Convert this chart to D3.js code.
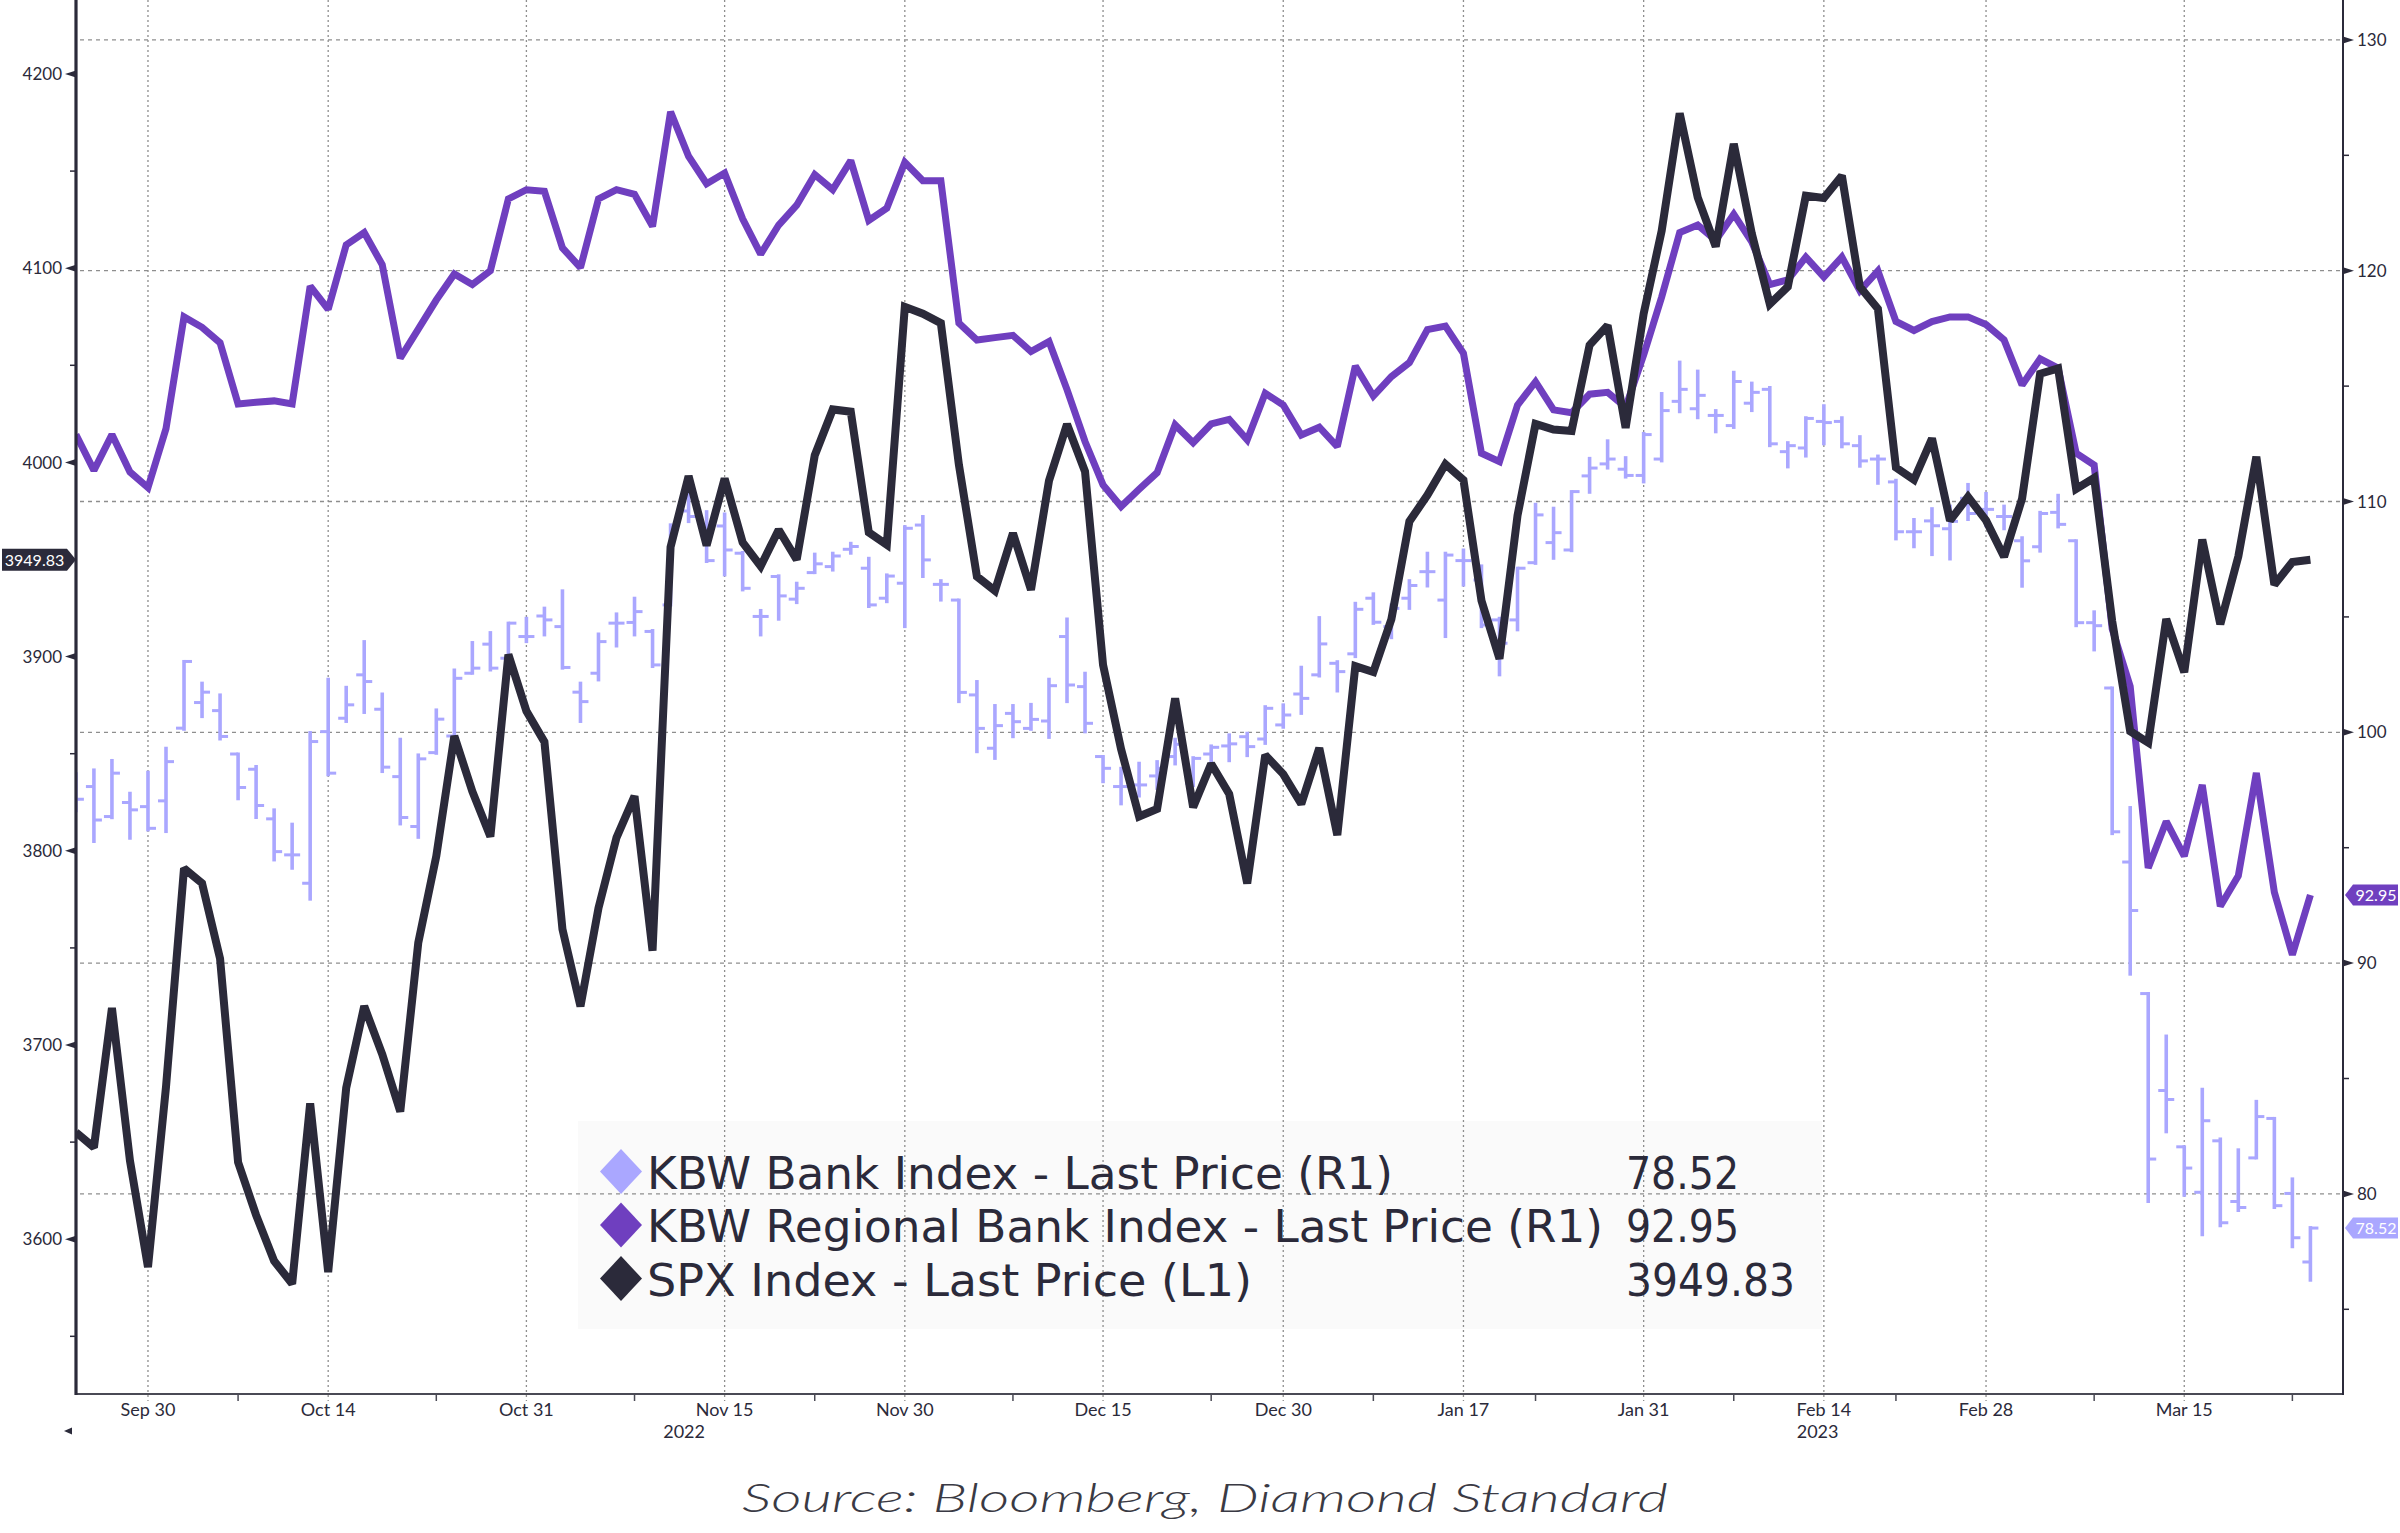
<!DOCTYPE html>
<html>
<head>
<meta charset="utf-8">
<script src="https://cdn.jsdelivr.net/npm/d3@7"></script>
<style>
  html, body { margin: 0; padding: 0; background: #ffffff; }
  svg { display: block; }
</style>
</head>
<body>
<div id="viz_div"></div>
<script>
// TRADING CALENDAR (x categories)
// ---------------------------------------------------------------------------------------------
const firstDay = new Date(2022, 8, 26);
const lastDay = new Date(2023, 2, 25);
const marketHolidays = ["2022-11-24", "2022-12-26", "2023-01-02", "2023-01-16", "2023-02-20"];
const fmtDay = d3.timeFormat("%Y-%m-%d");
const dates = d3.timeDay.range(firstDay, lastDay)
    .filter(d => d.getDay() !== 0 && d.getDay() !== 6 && !marketHolidays.includes(fmtDay(d)))
    .map(fmtDay);

// SERIES
// ---------------------------------------------------------------------------------------------
const spxLast = [
    3655.04, 3647.29, 3719.04, 3640.47, 3585.62, 3678.43, 3790.93, 3783.28, 3744.52, 3639.66,
    3612.39, 3588.84, 3577.03, 3669.91, 3583.07, 3677.95, 3719.98, 3695.16, 3665.78, 3752.75,
    3797.34, 3859.11, 3830.60, 3807.30, 3901.06, 3871.98, 3856.10, 3759.69, 3719.89, 3770.55,
    3806.80, 3828.11, 3748.57, 3956.37, 3992.93, 3957.25, 3991.73, 3958.79, 3946.56, 3965.34,
    3949.94, 4003.58, 4027.26, 4026.12, 3963.94, 3957.63, 4080.11, 4076.57, 4071.70, 3998.84,
    3941.26, 3933.92, 3963.51, 3934.38, 3990.56, 4019.65, 3995.32, 3895.75, 3852.36, 3817.66,
    3821.62, 3878.44, 3822.39, 3844.82, 3829.25, 3783.22, 3849.28, 3839.50, 3824.14, 3852.97,
    3808.10, 3895.08, 3892.09, 3919.25, 3969.61, 3983.17, 3999.09, 3990.97, 3928.86, 3898.85,
    3972.61, 4019.81, 4016.95, 4016.22, 4060.43, 4070.56, 4017.77, 4076.60, 4119.21, 4179.76,
    4136.48, 4111.08, 4164.00, 4117.86, 4081.50, 4090.46, 4137.29, 4136.13, 4147.60, 4090.41,
    4079.09, 3997.34, 3991.05, 4012.32, 3970.04, 3982.24, 3970.15, 3951.39, 3981.35, 4045.64,
    4048.42, 3986.37, 3992.01, 3918.32, 3861.59, 3855.76, 3919.29, 3891.93, 3960.28, 3916.64,
    3951.57, 4002.87, 3936.97, 3948.72, 3949.83
];

const regionalLast = [
    112.90, 111.35, 112.90, 111.28, 110.60, 113.16, 118.00, 117.55, 116.88, 114.23,
    114.30, 114.36, 114.23, 119.33, 118.33, 121.12, 121.65, 120.26, 116.21, 117.47,
    118.73, 119.86, 119.40, 120.00, 123.11, 123.51, 123.44, 120.99, 120.13, 123.11,
    123.51, 123.31, 121.92, 126.89, 124.96, 123.77, 124.23, 122.25, 120.72, 121.98,
    122.84, 124.17, 123.51, 124.77, 122.18, 122.71, 124.70, 123.90, 123.90, 117.73,
    117.00, 117.10, 117.20, 116.50, 116.93, 114.85, 112.60, 110.72, 109.78, 110.53,
    111.25, 113.32, 112.55, 113.36, 113.56, 112.67, 114.69, 114.18, 112.88, 113.22,
    112.38, 115.87, 114.57, 115.41, 116.02, 117.45, 117.60, 116.42, 112.09, 111.73,
    114.18, 115.19, 113.97, 113.85, 114.65, 114.73, 114.08, 116.35, 118.86, 121.65,
    121.98, 121.32, 122.45, 121.25, 119.40, 119.60, 120.59, 119.73, 120.59, 119.13,
    119.99, 117.80, 117.41, 117.80, 118.00, 118.00, 117.67, 117.00, 115.05, 116.18,
    115.78, 112.10, 111.58, 104.49, 101.99, 94.12, 96.14, 94.64, 97.72, 92.46,
    93.78, 98.24, 93.07, 90.36, 92.95
];

const bankOpen = [
    97.60, 97.65, 96.35, 96.96, 96.78, 97.03, 100.18, 101.29, 100.94, 99.06,
    98.40, 96.25, 94.69, 93.46, 100.03, 100.61, 102.49, 101.00, 98.08, 95.92,
    99.12, 99.84, 102.56, 103.82, 103.21, 104.15, 105.04, 104.58, 101.74, 102.56,
    104.73, 104.76, 104.37, 105.52, 109.59, 108.89, 108.94, 107.76, 105.02, 106.75,
    105.77, 106.92, 107.18, 107.93, 107.11, 105.81, 106.46, 108.98, 106.41, 105.73,
    101.62, 99.31, 100.82, 100.17, 100.49, 104.15, 101.98, 98.95, 97.65, 97.72,
    98.11, 98.95, 97.79, 99.06, 99.41, 99.81, 99.71, 100.32, 101.66, 102.49,
    102.99, 103.40, 105.81, 104.58, 105.81, 106.96, 105.73, 107.44, 106.60, 104.87,
    104.87, 107.35, 108.22, 107.90, 111.11, 111.63, 111.40, 111.13, 111.84, 114.34,
    114.02, 113.73, 113.29, 114.26, 114.86, 112.16, 112.32, 113.47, 113.47, 112.42,
    111.84, 110.85, 108.69, 109.16, 108.82, 110.14, 109.66, 109.35, 108.30, 108.04,
    109.53, 108.30, 104.75, 101.92, 94.38, 88.68, 84.48, 82.04, 80.07, 82.30,
    79.67, 81.56, 83.27, 80.02, 77.05
];
const bankHigh = [
    98.20, 98.37, 98.78, 97.36, 98.27, 99.31, 103.07, 102.13, 101.62, 99.06,
    98.52, 96.64, 96.02, 99.99, 102.30, 101.95, 103.93, 101.66, 99.70, 99.02,
    100.97, 102.70, 103.89, 104.32, 104.73, 104.94, 105.38, 106.13, 102.13, 104.26,
    105.13, 105.81, 104.41, 108.99, 110.36, 109.56, 109.46, 107.79, 105.28, 106.78,
    106.46, 107.72, 107.76, 108.19, 107.54, 106.82, 108.91, 109.35, 106.57, 105.73,
    102.20, 101.16, 101.16, 101.21, 102.30, 104.91, 102.56, 98.95, 98.44, 98.66,
    98.73, 99.70, 98.90, 99.41, 99.89, 99.96, 101.11, 101.19, 102.82, 104.97,
    103.06, 105.59, 106.00, 105.52, 106.57, 107.76, 107.76, 107.90, 107.21, 104.94,
    107.11, 109.88, 109.71, 110.43, 111.87, 112.63, 111.90, 112.95, 114.68, 116.04,
    115.65, 113.94, 115.60, 115.13, 114.94, 112.55, 113.63, 114.15, 113.63, 112.81,
    111.97, 110.92, 109.22, 109.69, 109.80, 110.74, 110.35, 109.80, 108.43, 109.53,
    110.27, 108.30, 105.22, 101.92, 96.74, 88.68, 86.84, 82.04, 84.53, 82.38,
    81.91, 84.01, 83.27, 80.65, 78.54
];
const bankLow = [
    96.60, 95.27, 96.30, 95.41, 95.77, 95.70, 100.13, 100.68, 99.71, 97.12,
    96.31, 94.47, 94.11, 92.77, 98.16, 100.47, 100.86, 98.30, 96.03, 95.45,
    99.09, 99.74, 102.56, 102.70, 103.14, 103.93, 104.22, 102.78, 100.47, 102.27,
    103.74, 104.22, 102.85, 105.52, 109.13, 107.40, 106.82, 106.17, 104.22, 104.90,
    105.62, 106.92, 107.03, 107.76, 105.45, 105.66, 104.58, 106.75, 105.73, 101.33,
    99.16, 98.87, 99.81, 100.13, 99.78, 101.33, 100.02, 97.86, 96.90, 97.24,
    97.57, 98.63, 97.69, 98.51, 98.77, 98.99, 99.52, 100.22, 100.82, 102.44,
    101.79, 103.28, 104.72, 104.10, 105.37, 106.34, 104.15, 106.38, 104.58, 102.49,
    104.44, 107.32, 107.54, 107.87, 110.40, 111.45, 111.06, 110.85, 111.76, 113.89,
    113.63, 113.02, 113.21, 113.94, 112.42, 111.50, 111.97, 112.50, 112.37, 111.53,
    110.79, 108.38, 108.04, 107.70, 107.51, 109.22, 108.95, 108.82, 106.33, 107.85,
    108.90, 104.62, 103.57, 95.61, 89.52, 79.67, 82.69, 79.94, 78.23, 78.62,
    79.28, 81.56, 79.41, 77.71, 76.26
];
const bankClose = [
    97.10, 96.20, 98.23, 96.64, 95.84, 98.73, 103.07, 101.74, 99.82, 97.61,
    96.83, 94.83, 94.69, 99.60, 98.23, 101.19, 102.20, 98.49, 96.31, 98.85,
    100.57, 102.34, 102.78, 102.78, 104.73, 104.15, 104.87, 102.81, 101.33, 103.93,
    104.73, 105.23, 102.92, 108.84, 109.35, 107.44, 107.90, 106.24, 105.02, 105.91,
    106.24, 107.30, 107.64, 108.05, 105.52, 106.77, 108.84, 107.47, 106.41, 101.73,
    100.17, 100.29, 100.46, 100.56, 102.02, 102.05, 100.39, 98.44, 97.65, 97.72,
    98.44, 99.48, 98.87, 99.35, 99.50, 99.38, 101.04, 100.75, 101.47, 103.83,
    102.63, 105.33, 104.77, 105.37, 106.36, 106.96, 107.68, 107.44, 104.65, 103.86,
    107.11, 109.42, 108.65, 110.43, 111.45, 111.84, 111.13, 112.90, 113.94, 114.86,
    114.60, 113.73, 115.20, 114.73, 112.50, 112.42, 113.60, 113.42, 112.50, 111.76,
    111.84, 108.69, 108.69, 108.95, 109.14, 109.48, 109.66, 109.35, 107.43, 109.48,
    109.01, 104.75, 104.62, 95.69, 92.28, 81.51, 84.09, 81.12, 83.17, 78.75,
    79.41, 83.35, 79.49, 78.10, 78.52
];

// AXIS TICKS AND LEGEND TEXT
// ---------------------------------------------------------------------------------------------
const dateTicks = ["2022-09-30", "2022-10-14", "2022-10-31", "2022-11-15", "2022-11-30", "2022-12-15",
    "2022-12-30", "2023-01-17", "2023-01-31", "2023-02-14", "2023-02-28", "2023-03-15"];
const dateTickLabels = ["Sep 30", "Oct 14", "Oct 31", "Nov 15", "Nov 30", "Dec 15",
    "Dec 30", "Jan 17", "Jan 31", "Feb 14", "Feb 28", "Mar 15"];
const minorDateTicks = ["2022-10-07", "2022-10-24", "2022-11-08", "2022-11-22", "2022-12-08", "2022-12-23",
    "2023-01-09", "2023-01-23", "2023-02-07", "2023-02-21", "2023-03-08", "2023-03-23"];
const years = ["2022", "2023"];
const leftTicks = [3600, 3700, 3800, 3900, 4000, 4100, 4200];
const leftMinorTicks = [3550, 3650, 3750, 3850, 3950, 4050, 4150];
const rightTicks = [80, 90, 100, 110, 120, 130];
const rightMinorTicks = [75, 85, 95, 105, 115, 125];
const legendNames = ["KBW Bank Index - Last Price (R1)", "KBW Regional Bank Index - Last Price (R1)", "SPX Index - Last Price (L1)"];
const legendValues = ["78.52", "92.95", "3949.83"];
const sourceNote = "Source: Bloomberg, Diamond Standard";

// LAYOUT
// ---------------------------------------------------------------------------------------------
const W = 2400, H = 1533;
const plotLeft = 76, plotRight = 2343, plotTop = 0, plotBottom = 1394;
const inkDark = "#2b2a3a";
const colBank = "#aaa7ff", colRegional = "#6f3fbf", colSpx = "#2b2a3a";
const gridCol = "#8e8e8e";
const tickFont = "Lato, 'DejaVu Sans', sans-serif";
const legendFont = "'DejaVu Sans', Lato, sans-serif";

const x = d3.scaleLinear().domain([0, dates.length - 1]).range([75.9, 2310.4]);
const xd = d => x(dates.indexOf(d));
const yL = d3.scaleLinear().domain([3520.3, 4238.1]).range([plotBottom, plotTop]);
const yR = d3.scaleLinear().domain([71.33, 131.73]).range([plotBottom, plotTop]);

const svg = d3.select("#viz_div").append("svg")
    .attr("width", W).attr("height", H)
    .attr("viewBox", `0 0 ${W} ${H}`);

svg.append("rect").attr("width", W).attr("height", H).attr("fill", "#ffffff");

svg.append("defs").append("clipPath").attr("id", "plotclip")
    .append("rect")
    .attr("x", plotLeft).attr("y", plotTop)
    .attr("width", plotRight - plotLeft).attr("height", plotBottom - plotTop);

// LEGEND BACKGROUND (under the grid)
// ---------------------------------------------------------------------------------------------
svg.append("rect")
    .attr("x", 578).attr("y", 1121)
    .attr("width", 1822 - 578).attr("height", 1329 - 1121)
    .attr("fill", "#fafafa");

// GRIDLINES
// ---------------------------------------------------------------------------------------------
svg.append("g").selectAll("line")
    .data(rightTicks)
    .join("line")
    .attr("x1", plotLeft + 4).attr("x2", plotRight)
    .attr("y1", d => yR(d)).attr("y2", d => yR(d))
    .attr("stroke", gridCol).attr("stroke-width", 1.3)
    .attr("stroke-dasharray", "4,4");

svg.append("g").selectAll("line")
    .data(dateTicks)
    .join("line")
    .attr("x1", d => xd(d)).attr("x2", d => xd(d))
    .attr("y1", plotTop).attr("y2", plotBottom + 7)
    .attr("stroke", gridCol).attr("stroke-width", 1.3)
    .attr("stroke-dasharray", "2,3");

// PLOT CONTENT
// ---------------------------------------------------------------------------------------------
const plot = svg.append("g").attr("clip-path", "url(#plotclip)");
const idx = d3.range(dates.length);

// KBW bank index as open/high/low/close bars
const bars = plot.append("g").attr("stroke", colBank).attr("fill", "none");
bars.selectAll("line.hl")
    .data(idx).join("line").attr("class", "hl")
    .attr("x1", i => x(i)).attr("x2", i => x(i))
    .attr("y1", i => yR(bankHigh[i]) - 1.5).attr("y2", i => yR(bankLow[i]) + 1.5)
    .attr("stroke-width", 3.6);
bars.selectAll("line.op")
    .data(idx).join("line").attr("class", "op")
    .attr("x1", i => x(i) - 8).attr("x2", i => x(i))
    .attr("y1", i => yR(bankOpen[i])).attr("y2", i => yR(bankOpen[i]))
    .attr("stroke-width", 3);
bars.selectAll("line.cl")
    .data(idx).join("line").attr("class", "cl")
    .attr("x1", i => x(i)).attr("x2", i => x(i) + 8)
    .attr("y1", i => yR(bankClose[i])).attr("y2", i => yR(bankClose[i]))
    .attr("stroke-width", 3);

plot.append("path")
    .datum(idx)
    .attr("fill", "none")
    .attr("stroke", colRegional)
    .attr("stroke-width", 7)
    .attr("stroke-linejoin", "miter")
    .attr("stroke-miterlimit", 2)
    .attr("d", d3.line().x(i => x(i)).y(i => yR(regionalLast[i])));

plot.append("path")
    .datum(idx)
    .attr("fill", "none")
    .attr("stroke", colSpx)
    .attr("stroke-width", 8)
    .attr("stroke-linejoin", "miter")
    .attr("stroke-miterlimit", 2)
    .attr("d", d3.line().x(i => x(i)).y(i => yL(spxLast[i])));

// AXES
// ---------------------------------------------------------------------------------------------
svg.append("line")
    .attr("x1", plotLeft).attr("x2", plotRight + 1)
    .attr("y1", plotBottom).attr("y2", plotBottom)
    .attr("stroke", "#4a4a55").attr("stroke-width", 2.2);
svg.append("line")
    .attr("x1", plotLeft).attr("x2", plotLeft)
    .attr("y1", plotTop).attr("y2", plotBottom + 1)
    .attr("stroke", inkDark).attr("stroke-width", 3.2);
svg.append("line")
    .attr("x1", plotRight).attr("x2", plotRight)
    .attr("y1", plotTop).attr("y2", plotBottom + 1)
    .attr("stroke", inkDark).attr("stroke-width", 2);

// left axis
svg.append("g").selectAll("path")
    .data(leftTicks).join("path")
    .attr("d", d => `M${plotLeft},${yL(d) - 3.5}L${plotLeft - 11},${yL(d)}L${plotLeft},${yL(d) + 3.5}Z`)
    .attr("fill", inkDark);
svg.append("g").selectAll("line")
    .data(leftMinorTicks).join("line")
    .attr("x1", plotLeft - 6).attr("x2", plotLeft)
    .attr("y1", d => yL(d)).attr("y2", d => yL(d))
    .attr("stroke", inkDark).attr("stroke-width", 1.5);
svg.append("g").selectAll("text")
    .data(leftTicks).join("text")
    .attr("x", 62).attr("y", d => yL(d))
    .attr("dy", "0.36em")
    .attr("text-anchor", "end")
    .attr("font-family", tickFont).attr("font-size", 17)
    .attr("fill", inkDark)
    .text(d => d);

// right axis
svg.append("g").selectAll("path")
    .data(rightTicks).join("path")
    .attr("d", d => `M${plotRight},${yR(d) - 3.5}L${plotRight + 11},${yR(d)}L${plotRight},${yR(d) + 3.5}Z`)
    .attr("fill", inkDark);
svg.append("g").selectAll("line")
    .data(rightMinorTicks).join("line")
    .attr("x1", plotRight).attr("x2", plotRight + 6)
    .attr("y1", d => yR(d)).attr("y2", d => yR(d))
    .attr("stroke", inkDark).attr("stroke-width", 1.5);
svg.append("g").selectAll("text")
    .data(rightTicks).join("text")
    .attr("x", 2357).attr("y", d => yR(d))
    .attr("dy", "0.36em")
    .attr("font-family", tickFont).attr("font-size", 17)
    .attr("fill", inkDark)
    .text(d => d);

// bottom axis
svg.append("g").selectAll("line")
    .data(minorDateTicks).join("line")
    .attr("x1", d => xd(d)).attr("x2", d => xd(d))
    .attr("y1", plotBottom).attr("y2", plotBottom + 7)
    .attr("stroke", "#4a4a55").attr("stroke-width", 1.5);
svg.append("g").selectAll("text")
    .data(dateTicks).join("text")
    .attr("x", d => xd(d)).attr("y", 1416)
    .attr("text-anchor", "middle")
    .attr("font-family", tickFont).attr("font-size", 18)
    .attr("fill", inkDark)
    .text((d, i) => dateTickLabels[i]);

// year labels centred on each year's stretch of axis
const yearBreak = (x(dates.indexOf("2022-12-30")) + x(dates.indexOf("2023-01-03"))) / 2;
const yearCenters = [(plotLeft + yearBreak) / 2, (yearBreak + plotRight) / 2];
svg.append("g").selectAll("text")
    .data(years).join("text")
    .attr("x", (d, i) => yearCenters[i]).attr("y", 1438)
    .attr("text-anchor", "middle")
    .attr("font-family", tickFont).attr("font-size", 18)
    .attr("fill", inkDark)
    .text(d => d);

svg.append("path")
    .attr("d", "M64,1431L72,1427.5L72,1434.5Z")
    .attr("fill", inkDark);

// LAST VALUE TAGS
// ---------------------------------------------------------------------------------------------
const spxY = yL(spxLast[spxLast.length - 1]);
svg.append("path")
    .attr("d", `M2,${spxY - 11}L67,${spxY - 11}L76,${spxY}L67,${spxY + 11}L2,${spxY + 11}Z`)
    .attr("fill", colSpx);
svg.append("text")
    .attr("x", 34.5).attr("y", spxY).attr("dy", "0.36em")
    .attr("text-anchor", "middle")
    .attr("font-family", tickFont).attr("font-size", 16)
    .attr("fill", "#ffffff")
    .text(legendValues[2]);

const rightTags = [
    { v: regionalLast[regionalLast.length - 1], c: colRegional, t: legendValues[1] },
    { v: bankClose[bankClose.length - 1], c: colBank, t: legendValues[0] }
];
const tagG = svg.append("g").selectAll("g").data(rightTags).join("g");
tagG.append("path")
    .attr("d", d => {
        const y = yR(d.v);
        return `M2345,${y}L2353,${y - 10.5}L2398,${y - 10.5}L2398,${y + 10.5}L2353,${y + 10.5}Z`;
    })
    .attr("fill", d => d.c);
tagG.append("text")
    .attr("x", 2376).attr("y", d => yR(d.v)).attr("dy", "0.36em")
    .attr("text-anchor", "middle")
    .attr("font-family", tickFont).attr("font-size", 16)
    .attr("fill", "#ffffff")
    .text(d => d.t);

// LEGEND
// ---------------------------------------------------------------------------------------------
const legendColors = [colBank, colRegional, colSpx];
const legendCenters = [1171.5, 1225, 1278.5];
const legendNameWidths = [746, 956, 605];
const legendValueWidths = [113, 113, 169];
const lg = svg.append("g");
lg.selectAll("path")
    .data(legendColors).join("path")
    .attr("d", (d, i) => {
        const cy = legendCenters[i];
        return `M621,${cy - 22.5}L642,${cy}L621,${cy + 22.5}L600,${cy}Z`;
    })
    .attr("fill", d => d);
lg.selectAll("text.name")
    .data(legendNames).join("text").attr("class", "name")
    .attr("x", 647).attr("y", (d, i) => legendCenters[i] + 17)
    .attr("font-family", legendFont).attr("font-size", 44)
    .attr("fill", inkDark)
    .attr("textLength", (d, i) => legendNameWidths[i])
    .attr("lengthAdjust", "spacingAndGlyphs")
    .text(d => d);
lg.selectAll("text.val")
    .data(legendValues).join("text").attr("class", "val")
    .attr("x", 1626).attr("y", (d, i) => legendCenters[i] + 17)
    .attr("font-family", legendFont).attr("font-size", 44)
    .attr("fill", inkDark)
    .attr("textLength", (d, i) => legendValueWidths[i])
    .attr("lengthAdjust", "spacingAndGlyphs")
    .text(d => d);

// SOURCE
// ---------------------------------------------------------------------------------------------
svg.append("text")
    .attr("x", 742).attr("y", 1512)
    .attr("font-family", "Lato, 'Open Sans', sans-serif")
    .attr("font-style", "italic").attr("font-weight", 300)
    .attr("font-size", 39)
    .attr("fill", "#3a3a44")
    .attr("textLength", 926)
    .attr("lengthAdjust", "spacingAndGlyphs")
    .text(sourceNote);
</script>
</body>
</html>
